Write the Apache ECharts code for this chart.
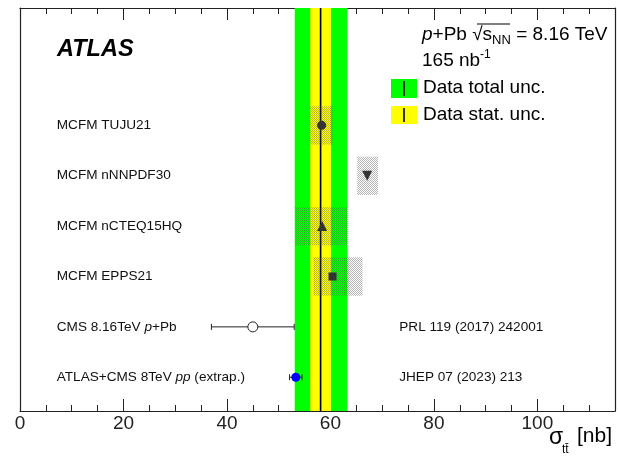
<!DOCTYPE html>
<html><head><meta charset="utf-8">
<script src="https://cdn.jsdelivr.net/npm/echarts/dist/echarts.min.js"></script>
<style>html,body{margin:0;padding:0;background:#fff}#c{width:618px;height:460px}</style>
</head><body><div id="c"></div>
<script>
const FONT = '"Liberation Sans", Arial, Helvetica, sans-serif';
// axis
const xMin = 0, xMax = 115, xStep = 20;
const yMin = 0, yMax = 8;
// ATLAS p+Pb measurement band
const dataCentral = 58.1;
const dataStat = [56.1, 60.1];
const dataTotal = [53.1, 63.3];
// MCFM predictions
const mcfmLabels = ['MCFM TUJU21', 'MCFM nNNPDF30', 'MCFM nCTEQ15HQ', 'MCFM EPPS21'];
const mcfmRows = [5.67, 4.67, 3.67, 2.67];
const mcfmCentral = [58.3, 67.1, 58.4, 60.4];
const mcfmLow = [56.1, 65.2, 53.2, 56.7];
const mcfmHigh = [60.4, 69.2, 63.3, 66.2];
const mcfmSymbols = ['circle', 'triangle', 'triangle', 'rect'];
const mcfmRotate = [0, 180, 0, 0];
// CMS 8.16 TeV p+Pb
const cmsLabel = '{n|CMS 8.16TeV }{i|p}{n|+Pb}';
const cmsRow = 1.67, cmsCentral = 45.0, cmsLow = 37.0, cmsHigh = 53.0;
const cmsRef = 'PRL 119 (2017) 242001';
// ATLAS+CMS 8 TeV pp extrapolated
const ppLabel = '{n|ATLAS+CMS 8TeV }{i|pp}{n| (extrap.)}';
const ppRow = 0.67, ppCentral = 53.3, ppLow = 52.1, ppHigh = 54.5;
const ppRef = 'JHEP 07 (2023) 213';
// label anchor positions (in axis units)
const labelX = 7.1, refX = 73.3;

const chart = echarts.init(document.getElementById('c'), null, {renderer: 'canvas'});

const pc = document.createElement('canvas'); pc.width = 2; pc.height = 2;
const pg = pc.getContext('2d');
pg.fillStyle = 'rgba(90,90,90,0.45)';
pg.fillRect(0, 0, 1, 1); pg.fillRect(1, 1, 1, 1);
const pattern = {image: pc, repeat: 'repeat'};

function bandSeries(range, color, z) {
  return {
    type: 'custom', z: z, silent: true,
    data: [[range[0], range[1]]],
    renderItem: function (p, api) {
      const a = api.coord([api.value(0), yMax]);
      const b = api.coord([api.value(1), yMin]);
      return {type: 'rect', shape: {x: a[0], y: a[1], width: b[0] - a[0], height: b[1] - a[1]}, style: {fill: color}};
    }
  };
}

const labelRows = mcfmLabels.map((t, i) => [labelX, mcfmRows[i], '{n|' + t + '}'])
  .concat([[labelX, cmsRow, cmsLabel], [labelX, ppRow, ppLabel], [refX, cmsRow, '{n|' + cmsRef + '}'], [refX, ppRow, '{n|' + ppRef + '}']]);

function errSeries(rows) {
  return {
    type: 'custom', z: 4, silent: true,
    data: rows,
    renderItem: function (p, api) {
      const a = api.coord([api.value(0), api.value(2)]);
      const b = api.coord([api.value(1), api.value(2)]);
      const st = {stroke: '#222', lineWidth: 1};
      return {type: 'group', children: [
        {type: 'line', shape: {x1: a[0], y1: a[1], x2: b[0], y2: b[1]}, style: st},
        {type: 'line', shape: {x1: a[0], y1: a[1] - 3, x2: a[0], y2: a[1] + 3}, style: st},
        {type: 'line', shape: {x1: b[0], y1: b[1] - 3, x2: b[0], y2: b[1] + 3}, style: st}
      ]};
    }
  };
}

const axLine = {show: true, onZero: false, lineStyle: {color: '#222', width: 1.2}};
const option = {
  animation: false,
  backgroundColor: '#fff',
  grid: {left: 20, right: 3, top: 8, bottom: 49},
  xAxis: [{
    type: 'value', min: xMin, max: xMax, interval: xStep, position: 'bottom',
    axisLine: axLine,
    axisTick: {show: true, inside: true, length: 12, lineStyle: {color: '#222'}},
    minorTick: {show: true, splitNumber: 4, length: 6, lineStyle: {color: '#222'}},
    splitLine: {show: false},
    axisLabel: {fontFamily: FONT, fontSize: 19, color: '#222', margin: 3,
      formatter: v => (v > 100 ? '' : String(v))}
  }, {
    type: 'value', min: xMin, max: xMax, interval: xStep, position: 'top',
    axisLine: axLine,
    axisTick: {show: true, inside: true, length: 12, lineStyle: {color: '#222'}},
    minorTick: {show: true, splitNumber: 4, length: 6, lineStyle: {color: '#222'}},
    splitLine: {show: false}, axisLabel: {show: false}
  }],
  yAxis: [{
    type: 'value', min: yMin, max: yMax, position: 'left',
    axisLine: axLine,
    axisTick: {show: false}, axisLabel: {show: false}, splitLine: {show: false}
  }, {
    type: 'value', min: yMin, max: yMax, position: 'right',
    axisLine: axLine,
    axisTick: {show: false}, axisLabel: {show: false}, splitLine: {show: false}
  }],
  series: [
    bandSeries(dataTotal, '#00ff00', 1),
    bandSeries(dataStat, '#ffff00', 2),
    {
      type: 'custom', z: 3, silent: true, data: [[dataCentral]],
      renderItem: function (p, api) {
        const a = api.coord([api.value(0), yMax]);
        const b = api.coord([api.value(0), yMin]);
        return {type: 'line', shape: {x1: a[0], y1: a[1], x2: b[0], y2: b[1]}, style: {stroke: '#000', lineWidth: 1.6}};
      }
    },
    {
      type: 'custom', z: 4, silent: true,
      data: mcfmRows.map((r, i) => [mcfmLow[i], mcfmHigh[i], r]),
      renderItem: function (p, api) {
        const a = api.coord([api.value(0), api.value(2) + 0.38]);
        const b = api.coord([api.value(1), api.value(2) - 0.38]);
        return {type: 'rect', shape: {x: a[0], y: a[1], width: b[0] - a[0], height: b[1] - a[1]}, style: {fill: pattern}};
      }
    },
    errSeries([[cmsLow, cmsHigh, cmsRow], [ppLow, ppHigh, ppRow]]),
    {
      type: 'scatter', z: 6, silent: true,
      data: mcfmRows.map((r, i) => ({value: [mcfmCentral[i], r], symbol: mcfmSymbols[i], symbolRotate: mcfmRotate[i],
        symbolSize: mcfmSymbols[i] === 'rect' ? 8 : (mcfmSymbols[i] === 'triangle' ? 10 : 9)})),
      itemStyle: {color: '#333', opacity: 1}
    },
    {
      type: 'scatter', z: 6, silent: true, symbol: 'circle', symbolSize: 10,
      data: [[cmsCentral, cmsRow]],
      itemStyle: {color: '#fff', borderColor: '#222', borderWidth: 1, opacity: 1}
    },
    {
      type: 'scatter', z: 6, silent: true, symbol: 'circle', symbolSize: 9,
      data: [[ppCentral, ppRow]],
      itemStyle: {color: '#0000ff', opacity: 1}
    },
    {
      type: 'custom', z: 7, silent: true, data: labelRows,
      renderItem: function (p, api) {
        const c = api.coord([api.value(0), api.value(1)]);
        return {type: 'text', x: c[0], y: c[1], style: {
          text: labelRows[p.dataIndex][2], verticalAlign: 'middle', align: 'left',
          rich: {
            n: {fontFamily: FONT, fontSize: 13.6, fill: '#111', color: '#111'},
            i: {fontFamily: FONT, fontSize: 13.6, fontStyle: 'italic', fill: '#111', color: '#111'}
          }
        }};
      }
    }
  ],
  graphic: [
    {type: 'text', x: 57, y: 50, style: {text: 'ATLAS', font: 'italic bold 23.5px ' + FONT, fill: '#000', verticalAlign: 'middle'}},
    {type: 'text', x: 422, y: 35, style: {
      text: '{i|p}{n|+Pb }{n|√}{n|s}{sub|NN}{n| = 8.16 TeV}', verticalAlign: 'middle',
      rich: {
        n: {fontFamily: FONT, fontSize: 19, fill: '#000'},
        i: {fontFamily: FONT, fontSize: 19, fontStyle: 'italic', fill: '#000'},
        sub: {fontFamily: FONT, fontSize: 13, fill: '#000', padding: [10, 0, 0, 0]}
      }}},
    {type: 'line', shape: {x1: 477, y1: 24, x2: 510, y2: 24}, style: {stroke: '#000', lineWidth: 1}},
    {type: 'text', x: 422, y: 61, style: {
      text: '{n|165 nb}{sup|-1}', verticalAlign: 'middle',
      rich: {
        n: {fontFamily: FONT, fontSize: 19, fill: '#000'},
        sup: {fontFamily: FONT, fontSize: 12, fill: '#000', padding: [0, 0, 12, 0]}
      }}},
    {type: 'rect', shape: {x: 391, y: 79, width: 26, height: 19}, style: {fill: '#00ff00'}},
    {type: 'line', shape: {x1: 404, y1: 81, x2: 404, y2: 96}, style: {stroke: '#000', lineWidth: 1.6}},
    {type: 'text', x: 423, y: 88, style: {text: 'Data total unc.', font: '19px ' + FONT, fill: '#000', verticalAlign: 'middle'}},
    {type: 'rect', shape: {x: 391, y: 106, width: 26, height: 18}, style: {fill: '#ffff00'}},
    {type: 'line', shape: {x1: 404, y1: 108, x2: 404, y2: 122}, style: {stroke: '#000', lineWidth: 1.6}},
    {type: 'text', x: 423, y: 115, style: {text: 'Data stat. unc.', font: '19px ' + FONT, fill: '#000', verticalAlign: 'middle'}},
    {type: 'text', x: 549, y: 438, style: {text: 'σ', font: '23px ' + FONT, fill: '#000', verticalAlign: 'middle'}},
    {type: 'text', x: 562, y: 450, style: {text: 'tt\u0304', font: '12px ' + FONT, fill: '#000', verticalAlign: 'middle'}},
    {type: 'text', x: 577, y: 436, style: {text: '[nb]', font: '21px ' + FONT, fill: '#000', verticalAlign: 'middle'}}
  ]
};
chart.setOption(option);
</script></body></html>
